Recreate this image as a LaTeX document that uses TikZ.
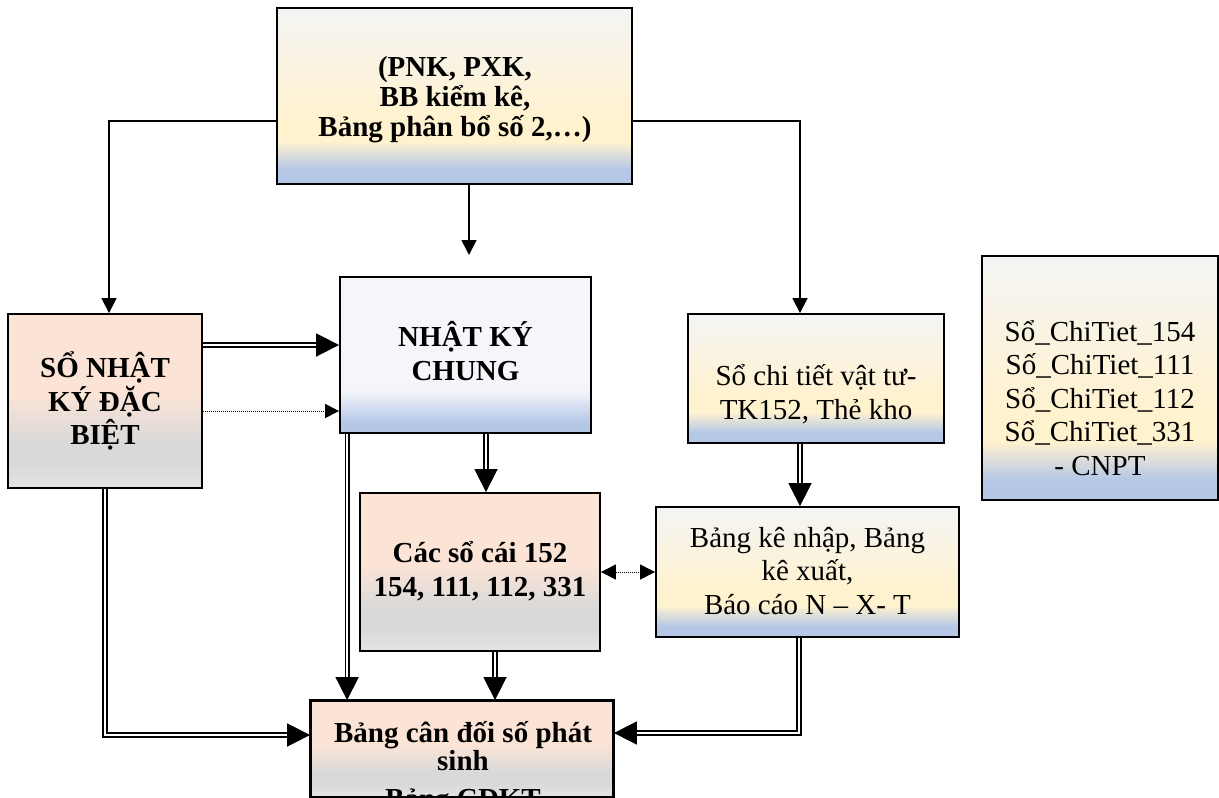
\documentclass[tikz,border=0pt]{standalone}
\usepackage{fontspec}
\setmainfont{Liberation Serif}
\usetikzlibrary{arrows.meta}

\definecolor{wblue}{HTML}{B4C7E7}
\definecolor{wcream}{HTML}{FFF2CF}
\definecolor{wwhite}{HTML}{F4F4F4}
\definecolor{wpeach}{HTML}{FBE4D6}
\definecolor{wgrey}{HTML}{D9D9D9}
\definecolor{wpale}{HTML}{F5F6FA}

\pgfdeclareverticalshading{dawn}{100bp}{color(0bp)=(wblue); color(25bp)=(wblue); color(29bp)=(wblue); color(37bp)=(wcream); color(43bp)=(wcream); color(75bp)=(wwhite); color(100bp)=(wwhite)}
\pgfdeclareverticalshading{peach}{100bp}{color(0bp)=(wgrey!70!white); color(25bp)=(wgrey!70!white); color(32bp)=(wgrey); color(38bp)=(wgrey); color(52bp)=(wpeach); color(75bp)=(wpeach); color(100bp)=(wpeach)}
\pgfdeclareverticalshading{pale}{100bp}{color(0bp)=(wblue); color(25bp)=(wblue); color(28bp)=(wblue); color(39bp)=(wpale); color(75bp)=(wpale); color(100bp)=(wpale)}

\begin{document}
\begin{tikzpicture}[x=1pt, y=-1pt,
  box/.style = {draw, line width=1.8pt, inner sep=0pt, shade},
  txt/.style = {align=center, inner sep=0pt, font=\fontsize{29}{33.5}\selectfont},
  boldtxt/.style = {align=center, inner sep=0pt, font=\fontsize{29}{33.5}\selectfont\bfseries},
  thinarrow/.style = {line width=1.5pt, -{Triangle[length=15pt, width=15pt]}},
  dblarrow/.style = {double, double distance=2pt, line width=1.6pt, -{Triangle[length=23pt, width=23pt]}},
  dotarrow/.style = {line width=1pt, dash pattern=on 1pt off 1pt, -{Triangle[length=14pt, width=14pt]}}]

\useasboundingbox (0, 0) rectangle (1219, 798);

\node[box, shading=dawn, minimum width=355pt, minimum height=176pt] (src) at (454.5, 96) {};
\node[box, shading=peach, minimum width=194pt, minimum height=174pt] (sndb) at (105, 401) {};
\node[box, shading=pale, minimum width=251pt, minimum height=156pt] (nkc) at (465.5, 355) {};
\node[box, shading=peach, minimum width=240pt, minimum height=158pt] (soCai) at (480, 572) {};
\node[box, shading=dawn, minimum width=256pt, minimum height=129pt] (ctvt) at (816, 378.5) {};
\node[box, shading=dawn, minimum width=303pt, minimum height=130pt] (bkn) at (807.5, 572) {};
\node[box, shading=dawn, minimum width=236pt, minimum height=244pt] (chiTiet) at (1100, 378) {};
\node[box, shading=peach, minimum width=302pt, minimum height=96pt] (bcps) at (462, 749) {};

\node[boldtxt, font=\fontsize{29}{30}\selectfont\bfseries] (srcT) at (455, 100) {(PNK, PXK,\\BB kiểm kê,\\Bảng phân bổ số 2,…)};
\node[boldtxt] (sndbT) at (105, 401) {SỔ NHẬT\\KÝ ĐẶC\\BIỆT};
\node[boldtxt] (nkcT) at (465.5, 351) {NHẬT KÝ\\CHUNG};
\node[boldtxt] (soCaiT) at (480, 571) {Các sổ cái 152\\154, 111, 112, 331};
\node[txt] (ctvtT) at (816, 394) {Sổ chi tiết vật tư-\\TK152, Thẻ kho};
\node[txt] (bknT) at (807.5, 571) {Bảng kê nhập, Bảng\\kê xuất,\\Báo cáo N – X- T};
\node[txt] (chiTietT) at (1100, 398) {Sổ\_ChiTiet\_154\\Số\_ChiTiet\_111\\Sổ\_ChiTiet\_112\\Sổ\_ChiTiet\_331\\- CNPT};
\begin{scope}
\clip (bcps.north west) rectangle (bcps.south east);
\node[boldtxt, font=\fontsize{29}{28}\selectfont\bfseries] (bcpsT) at (463, 768) {Bảng cân đối số phát\\sinh\\[10pt]Bảng CĐKT};
\end{scope}
\draw[line width=1.8pt] (bcps.north west) rectangle (bcps.south east);

\coordinate (gap) at (469, 255);

\draw[thinarrow] ([yshift=-25pt]src.west) -| ([xshift=4pt]sndb.north);
\draw[thinarrow] ([yshift=-25pt]src.east) -| ([xshift=-16pt]ctvt.north);
\draw[thinarrow] (src.south -| gap) -- (gap);

\draw[dblarrow] ([yshift=56pt]sndb.east) -- ([yshift=56pt]sndb.east -| nkc.west);
\draw[dotarrow] ([yshift=-10pt]sndb.east) -- ([yshift=-10pt]sndb.east -| nkc.west);

\draw[dblarrow] ([xshift=6pt]soCai.north |- nkc.south) -- ([xshift=6pt]soCai.north);
\draw[dblarrow] ([xshift=8pt]nkc.south west) -- ([xshift=8pt]nkc.south west |- bcps.north);
\draw[dblarrow] ([xshift=15pt]soCai.south) -- ([xshift=15pt]soCai.south |- bcps.north);
\draw[dblarrow] (sndb.south) |- ([yshift=14pt]bcps.west);

\draw[dblarrow] ([xshift=-16pt]ctvt.south) -- ([xshift=-16pt]ctvt.south |- bkn.north);
\draw[dblarrow] ([xshift=-8.5pt]bkn.south) |- ([yshift=16pt]bcps.east);

\draw[dotarrow, {Triangle[length=15pt, width=15pt]}-{Triangle[length=15pt, width=15pt]}] (soCai.east) -- (soCai.east -| bkn.west);

\end{tikzpicture}
\end{document}
